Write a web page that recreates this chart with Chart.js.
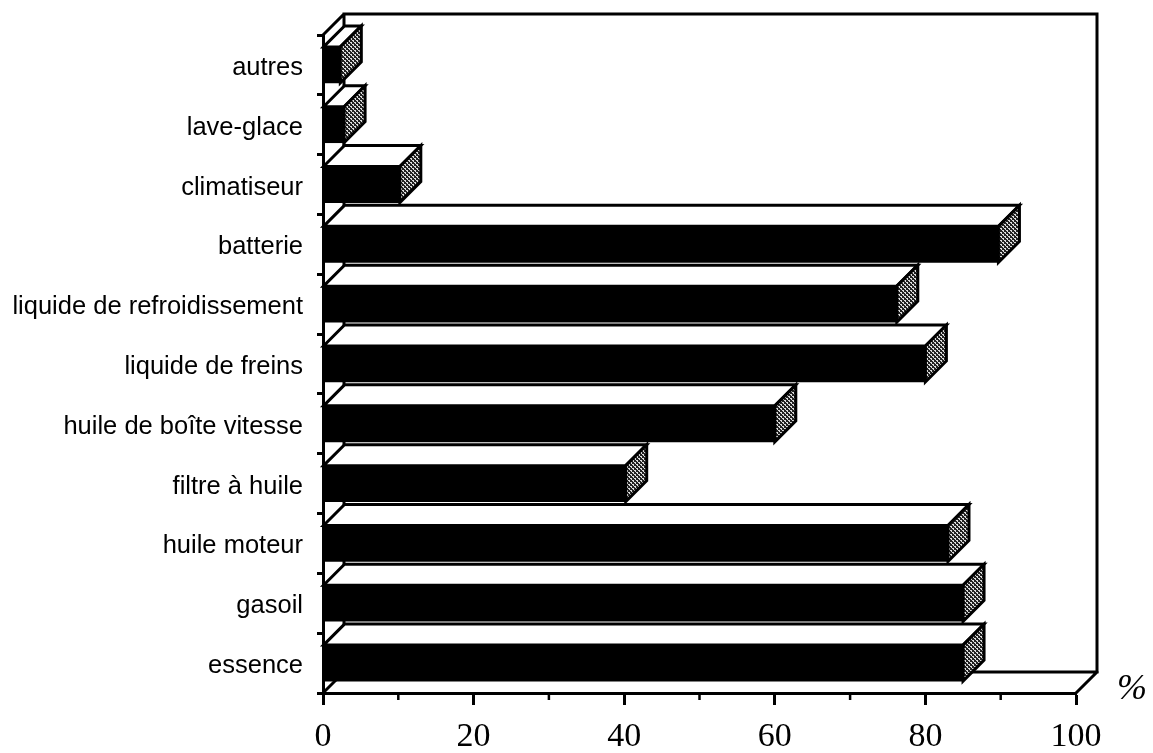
<!DOCTYPE html>
<html><head><meta charset="utf-8">
<style>html,body{margin:0;padding:0;background:#fff}canvas{display:block}</style>
<script src="https://cdn.jsdelivr.net/npm/chart.js@4/dist/chart.umd.min.js"></script>
</head><body>
<div style="width:1153px;height:753px"><canvas id="c" width="1153" height="753"></canvas></div>
<script>
const categories = ["autres","lave-glace","climatiseur","batterie","liquide de refroidissement","liquide de freins","huile de boîte vitesse","filtre à huile","huile moteur","gasoil","essence"];
const percentages = [2.3,2.8,10.2,89.7,76.2,80,60,40.2,83,85,85];
const minorTicks = [10,30,50,70,90];
const axisUnit = "%";
const DEPTH = 21;

function hatch(ctx){
  const p=document.createElement('canvas');p.width=4;p.height=4;
  const g=p.getContext('2d');g.fillStyle='#222';g.fillRect(0,0,4,4);
  g.fillStyle='#ddd';g.fillRect(0,0,2,1);g.fillRect(2,2,2,1);g.fillRect(1,1,1,1);g.fillRect(3,3,1,1);
  return ctx.createPattern(p,'repeat');
}
function poly(ctx,pts,fill){
  ctx.beginPath();pts.forEach((q,i)=>i?ctx.lineTo(q[0],q[1]):ctx.moveTo(q[0],q[1]));ctx.closePath();
  ctx.fillStyle=fill;ctx.fill();ctx.stroke();
}
const box3d={
  id:'box3d',
  beforeDatasetsDraw(chart){
    const {ctx,chartArea:a,scales:{x}}=chart;
    ctx.save();ctx.strokeStyle='#000';ctx.lineWidth=3;ctx.lineCap='square';
    const L=a.left,R=a.right,T=a.top,B=a.bottom;
    ctx.beginPath();
    ctx.moveTo(L,T);ctx.lineTo(L+DEPTH,T-DEPTH);ctx.lineTo(R+DEPTH,T-DEPTH);ctx.lineTo(R+DEPTH,B-DEPTH);
    ctx.lineTo(L+DEPTH,B-DEPTH);ctx.lineTo(L+DEPTH,T-DEPTH);
    ctx.moveTo(L,B);ctx.lineTo(L+DEPTH,B-DEPTH);
    ctx.moveTo(R,B);ctx.lineTo(R+DEPTH,B-DEPTH);
    ctx.stroke();
    ctx.lineWidth=2.5;ctx.lineCap='butt';
    minorTicks.forEach(v=>{const px=x.getPixelForValue(v);ctx.beginPath();ctx.moveTo(px,B);ctx.lineTo(px,B+7);ctx.stroke();});
    ctx.restore();
  },
  afterDatasetsDraw(chart){
    const {ctx}=chart;const pat=hatch(ctx);
    ctx.save();ctx.strokeStyle='#000';ctx.lineWidth=3;ctx.lineJoin='miter';
    chart.getDatasetMeta(0).data.forEach(el=>{
      const x0=el.base,x1=el.x,t=el.y-el.height/2,b=el.y+el.height/2;
      poly(ctx,[[x0,t],[x0+DEPTH,t-DEPTH],[x1+DEPTH,t-DEPTH],[x1,t]],'#fff');
      poly(ctx,[[x1,t],[x1+DEPTH,t-DEPTH],[x1+DEPTH,b-DEPTH],[x1,b]],pat);
    });
    ctx.fillStyle='#000';ctx.font='italic 36px "Liberation Serif"';ctx.textAlign='left';ctx.textBaseline='alphabetic';
    ctx.fillText(axisUnit,1117,699);
    ctx.restore();
  }
};
new Chart(document.getElementById('c'),{
  type:'bar',
  plugins:[box3d],
  data:{labels:categories,datasets:[{data:percentages,backgroundColor:'#000',borderWidth:0,barThickness:36}]},
  options:{
    indexAxis:'y',responsive:false,animation:false,devicePixelRatio:1,
    layout:{padding:{top:35,right:77,left:0,bottom:0}},
    plugins:{legend:{display:false},tooltip:{enabled:false},title:{display:false}},
    scales:{
      x:{min:0,max:100,
        afterFit(s){s.height=60;},
        ticks:{stepSize:20,maxRotation:0,autoSkip:false,padding:12,color:'#000',font:{family:'"Liberation Serif"',size:34}},
        grid:{drawOnChartArea:false,drawTicks:true,tickLength:12,tickWidth:3,tickColor:'#000'},
        border:{display:true,color:'#000',width:3}},
      y:{
        afterFit(s){s.width=323;},
        ticks:{autoSkip:false,padding:14,labelOffset:3,color:'#000',font:{family:'"Liberation Sans"',size:25.5}},
        grid:{drawOnChartArea:false,drawTicks:true,tickLength:6,tickWidth:3,tickColor:'#000'},
        border:{display:true,color:'#000',width:3}}
    }
  }
});
</script>
</body></html>
